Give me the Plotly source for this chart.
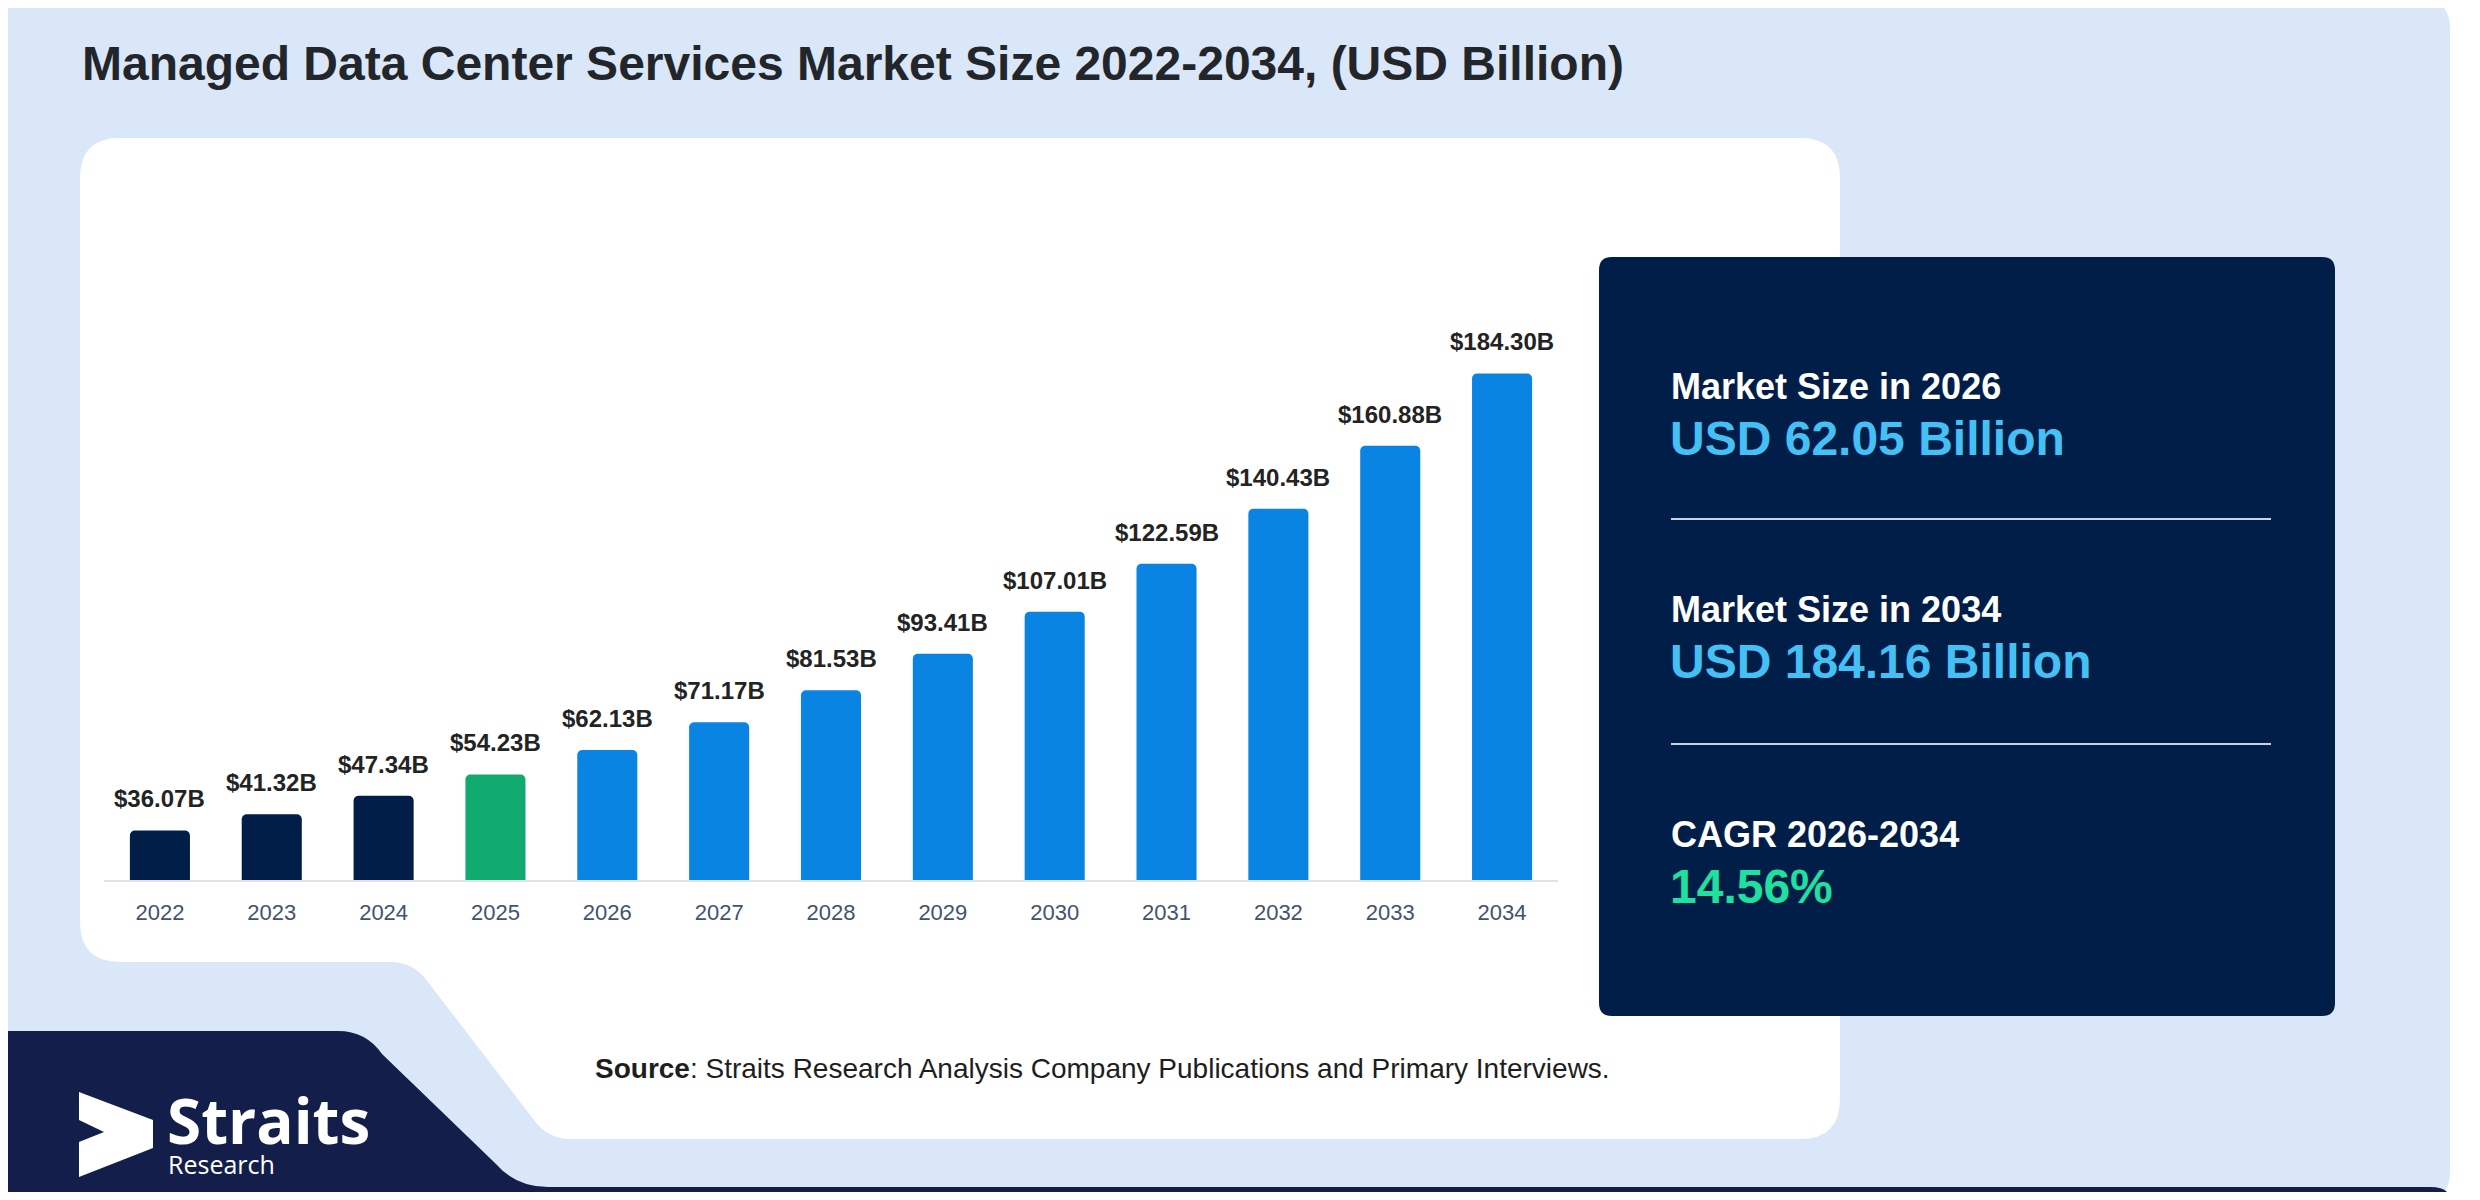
import plotly.graph_objects as go

# Target frame is the 2480x1200 screenshot; the page body adds an 8px margin,
# so the figure is 16px smaller and every coordinate is shifted by -8.
SW, SH = 2480, 1200
M = 8
W, H = SW - 2 * M, SH - 2 * M

# ---------------- data ----------------
years = ["2022", "2023", "2024", "2025", "2026", "2027", "2028",
         "2029", "2030", "2031", "2032", "2033", "2034"]
values = [36.07, 41.32, 47.34, 54.23, 62.13, 71.17, 81.53,
          93.41, 107.01, 122.59, 140.43, 160.88, 184.30]
historic_years = ["2022", "2023", "2024"]
base_year = "2025"

title_text = "Managed Data Center Services Market Size 2022-2034, (USD Billion)"
source_bold = "Source"
source_rest = ": Straits Research Analysis Company Publications and Primary Interviews."
stat_labels = ["Market Size in 2026", "Market Size in 2034", "CAGR 2026-2034"]
stat_values = ["USD 62.05 Billion", "USD 184.16 Billion", "14.56%"]

# ---------------- styles ----------------
C_CARD = "#dae7f8"
C_NAVY_BOX = "#011e48"
C_FOOT = "#131f4a"
C_HIST = "#011e48"
C_BASE = "#10a96f"
C_FORE = "#0a84e2"
C_STAT = "#45c0f5"
C_CAGR = "#1fe09f"
FONT = "Liberation Sans, Arial, sans-serif"
LOGO_FONT = "Open Sans, Noto Sans, sans-serif"

bar_colors = [C_HIST if y in historic_years else (C_BASE if y == base_year else C_FORE)
              for y in years]


def px(x):
    return (x - M) / W


def py(y):
    return 1 - (y - M) / H


def path(cmds):
    out = []
    for item in cmds:
        cmd, coords = item[0], item[1:]
        pts = [f"{px(coords[i]):.5f},{py(coords[i+1]):.5f}" for i in range(0, len(coords), 2)]
        out.append(cmd + (" " + " ".join(pts) if pts else ""))
    return " ".join(out)


def rrect(x0, y0, x1, y1, r):
    return path([
        ("M", x0 + r, y0), ("L", x1 - r, y0), ("Q", x1, y0, x1, y0 + r),
        ("L", x1, y1 - r), ("Q", x1, y1, x1 - r, y1), ("L", x0 + r, y1),
        ("Q", x0, y1, x0, y1 - r), ("L", x0, y0 + r), ("Q", x0, y0, x0 + r, y0), ("Z",),
    ])


shapes = []
# outer light card
shapes.append(dict(type="path", xref="paper", yref="paper", layer="below",
                   path=rrect(0, 0, 2450, 1200, 28), fillcolor=C_CARD, line=dict(width=0)))
# white chart panel with notch at bottom-left
r = 40
white_path = path([
    ("M", 80 + r, 138), ("L", 1840 - r, 138), ("Q", 1840, 138, 1840, 138 + r),
    ("L", 1840, 1139 - r), ("Q", 1840, 1139, 1840 - r, 1139),
    ("L", 570, 1139), ("Q", 548, 1139, 534, 1120),
    ("L", 428, 982), ("Q", 414, 962, 390, 962),
    ("L", 80 + r, 962), ("Q", 80, 962, 80, 962 - r),
    ("L", 80, 138 + r), ("Q", 80, 138, 80 + r, 138), ("Z",),
])
shapes.append(dict(type="path", xref="paper", yref="paper", layer="below",
                   path=white_path, fillcolor="#ffffff", line=dict(width=0)))
# navy footer band
foot_path = path([
    ("M", 0, 1031), ("L", 338, 1031), ("Q", 366, 1031, 382, 1054),
    ("L", 496, 1164), ("Q", 516, 1187, 548, 1187),
    ("L", 2430, 1187), ("Q", 2450, 1187, 2450, 1200),
    ("L", 20, 1200), ("Q", 0, 1200, 0, 1180), ("Z",),
])
shapes.append(dict(type="path", xref="paper", yref="paper", layer="below",
                   path=foot_path, fillcolor=C_FOOT, line=dict(width=0)))
# logo arrow
arrow = path([
    ("M", 79, 1092), ("L", 153, 1120), ("L", 153, 1148), ("L", 79, 1177),
    ("L", 79, 1142), ("L", 104, 1132), ("L", 79, 1120), ("Z",),
])
shapes.append(dict(type="path", xref="paper", yref="paper", layer="below",
                   path=arrow, fillcolor="#ffffff", line=dict(width=0)))
# info box
shapes.append(dict(type="path", xref="paper", yref="paper", layer="below",
                   path=rrect(1599, 257, 2335, 1016, 13), fillcolor=C_NAVY_BOX,
                   line=dict(width=0)))
# dividers
for ly in (519, 744):
    shapes.append(dict(type="line", xref="paper", yref="paper", layer="below",
                       x0=px(1671), x1=px(2271), y0=py(ly), y1=py(ly),
                       line=dict(color="#c9d2e3", width=2)))

fig = go.Figure()
fig.add_trace(go.Bar(
    x=years, y=values,
    marker=dict(color=bar_colors, cornerradius=5, line=dict(width=0)),
    hoverinfo="x+y", showlegend=False,
))

annotations = []
# bar value labels (category axes take the category index)
for i, v in enumerate(values):
    annotations.append(dict(
        x=i, y=v, xref="x", yref="y", text=f"<b>${v:.2f}B</b>", showarrow=False,
        yanchor="bottom", yshift=16,
        font=dict(family=FONT, size=24, color="#232323"),
    ))

# title
annotations.append(dict(x=px(80), y=py(63), xref="paper", yref="paper",
                        xanchor="left", yanchor="middle", showarrow=False,
                        text=f"<b>{title_text}</b>",
                        font=dict(family=FONT, size=48, color="#22262b")))
# source
annotations.append(dict(x=px(593), y=py(1068), xref="paper", yref="paper",
                        xanchor="left", yanchor="middle", showarrow=False,
                        text=f"<b>{source_bold}</b>{source_rest}",
                        font=dict(family=FONT, size=28, color="#1e1e1e")))
# logo text
annotations.append(dict(x=px(165), y=py(1120), xref="paper", yref="paper",
                        xanchor="left", yanchor="middle", showarrow=False,
                        text="<b>Straits</b>",
                        font=dict(family=LOGO_FONT, size=62, color="#ffffff")))
annotations.append(dict(x=px(166), y=py(1164), xref="paper", yref="paper",
                        xanchor="left", yanchor="middle", showarrow=False,
                        text="Research",
                        font=dict(family=LOGO_FONT, size=25, color="#ffffff")))

# info box stats
label_y = [386, 609, 834]
value_y = [438, 661, 886]
value_colors = [C_STAT, C_STAT, C_CAGR]
for lab, val, ly, vy, vc in zip(stat_labels, stat_values, label_y, value_y, value_colors):
    annotations.append(dict(x=px(1669), y=py(ly), xref="paper", yref="paper",
                            xanchor="left", yanchor="middle", showarrow=False,
                            text=f"<b>{lab}</b>",
                            font=dict(family=FONT, size=36, color="#ffffff")))
    annotations.append(dict(x=px(1668), y=py(vy), xref="paper", yref="paper",
                            xanchor="left", yanchor="middle", showarrow=False,
                            text=f"<b>{val}</b>",
                            font=dict(family=FONT, size=48, color=vc)))

y_min = 20
px_per_unit = 3.083
y_top_px, y_base_px = 200, 880
y_max = y_min + (y_base_px - y_top_px) / px_per_unit

fig.update_layout(
    width=W, height=H, margin=dict(l=0, r=0, t=0, b=0),
    paper_bgcolor="#ffffff", plot_bgcolor="rgba(0,0,0,0)",
    shapes=shapes, annotations=annotations, bargap=0.463,
    xaxis=dict(domain=[px(104), px(1558)], type="category",
               showgrid=False, zeroline=False,
               showline=True, linecolor="#e3e3e3", linewidth=2,
               ticks="", ticklabelstandoff=12,
               tickfont=dict(family=FONT, size=22, color="#43526f"),
               fixedrange=True),
    yaxis=dict(domain=[py(y_base_px), py(y_top_px)], range=[y_min, y_max],
               visible=False, showgrid=False, zeroline=False, fixedrange=True),
    font=dict(family=FONT),
)

fig.write_html("out.html")
